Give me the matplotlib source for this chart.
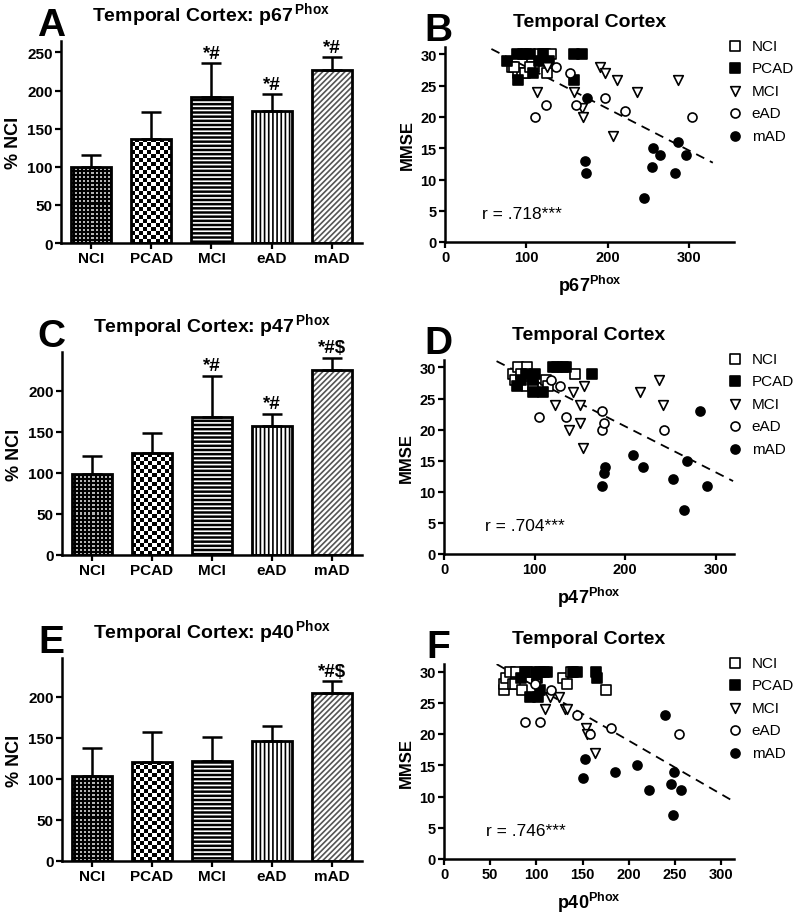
import numpy as np
import matplotlib
matplotlib.use("Agg")
import matplotlib.pyplot as plt

plt.rcParams['font.family'] = 'Liberation Sans'
plt.rcParams['mathtext.fontset'] = 'custom'
plt.rcParams['mathtext.rm'] = 'Liberation Sans'
plt.rcParams['mathtext.bf'] = 'Liberation Sans:bold'
plt.rcParams['hatch.linewidth'] = 1.2

groups = ['NCI', 'PCAD', 'MCI', 'eAD', 'mAD']

# bar panels: mean % NCI and upper error (SEM)
p67_mean = [100, 137, 192, 173, 227]
p67_err = [16, 35, 44, 22, 17]
p67_sig = ['', '', '*#', '*#', '*#']

p47_mean = [98, 124, 168, 157, 225]
p47_err = [22, 24, 50, 15, 15]
p47_sig = ['', '', '*#', '*#', '*#$']

p40_mean = [103, 121, 122, 146, 204]
p40_err = [35, 36, 29, 18, 15]
p40_sig = ['', '', '', '', '*#$']

# scatter panels: (protein level, MMSE) per group
p67_pts = {
    'NCI': ([82, 90, 94, 98, 100, 107, 109, 115, 123, 125, 130, 85, 104],
            [28, 27, 27, 27, 30, 29, 28, 30, 30, 27, 30, 28, 28]),
    'PCAD': ([76, 88, 90, 96, 104, 108, 115, 120, 128, 158, 168, 158],
             [29, 30, 26, 30, 30, 27, 29, 30, 29, 30, 30, 26]),
    'MCI': ([113, 125, 158, 168, 169, 191, 197, 211, 236, 206, 286],
            [24, 28, 24, 21.5, 20, 28, 27, 26, 24, 17, 26]),
    'eAD': ([110, 124, 136, 153, 161, 197, 221, 304],
            [20, 22, 28, 27, 22, 23, 21, 20]),
    'mAD': ([175, 172, 173, 244, 256, 264, 254, 282, 286, 296],
            [23, 13, 11, 7, 15, 14, 12, 11, 16, 14]),
}
p47_pts = {
    'NCI': ([76, 82, 92, 87, 92, 78, 98, 113, 115, 144, 85],
            [29, 30, 30, 28, 27, 28, 27, 28, 27, 29, 29]),
    'PCAD': ([80, 85, 90, 98, 100, 109, 120, 125, 131, 135, 163, 98],
             [27, 28, 29, 26, 29, 26, 30, 30, 30, 30, 29, 28]),
    'MCI': ([122, 138, 142, 150, 150, 153, 155, 216, 237, 242],
            [24, 20, 26, 24, 21, 17, 27, 26, 28, 24]),
    'eAD': ([105, 118, 128, 135, 174, 174, 177, 243],
            [22, 28, 27, 22, 23, 20, 21, 20]),
    'mAD': ([283, 209, 220, 178, 176, 174, 268, 253, 290, 265],
            [23, 16, 14, 14, 13, 11, 15, 12, 11, 7]),
}
p40_pts = {
    'NCI': ([65, 65, 67, 71, 78, 75, 77, 84, 90, 129, 133, 138, 175],
            [27, 28, 29, 30, 30, 28, 28, 27, 30, 29, 28, 30, 27]),
    'PCAD': ([83, 88, 93, 100, 104, 108, 111, 102, 104, 101, 140, 144, 165, 166],
             [29, 30, 26, 30, 30, 30, 30, 26, 27, 29, 30, 30, 30, 29]),
    'MCI': ([100, 109, 115, 124, 131, 133, 154, 155, 164],
            [28, 24, 26, 26, 24, 24, 21, 20, 17]),
    'eAD': ([88, 104, 99, 116, 144, 158, 181, 254],
            [22, 22, 28, 27, 23, 20, 21, 20]),
    'mAD': ([150, 153, 185, 209, 239, 249, 246, 257, 222, 248],
            [13, 16, 14, 15, 23, 14, 12, 11, 11, 7]),
}

# regression lines (slope, intercept, x start, x end) and r values
p67_fit = (-0.0669, 34.7, 57, 329)
p47_fit = (-0.0739, 35.3, 58, 319)
p40_fit = (-0.0856, 36.06, 57, 315)
p67_r = 'r = .718***'
p47_r = 'r = .704***'
p40_r = 'r = .746***'

markers = {'NCI': ('s', 'white'), 'PCAD': ('s', 'black'), 'MCI': ('v', 'white'),
           'eAD': ('o', 'white'), 'mAD': ('o', 'black')}

W, H = 800, 920
fig = plt.figure(figsize=(8, 9.2), dpi=100)


def box(l, r, top, bottom):
    return [l / W, 1 - bottom / H, (r - l) / W, (bottom - top) / H]


def style_axes(ax, size=10.5):
    for s in ['top', 'right']:
        ax.spines[s].set_visible(False)
    for s in ['left', 'bottom']:
        ax.spines[s].set_linewidth(1.8)
    ax.tick_params(direction='out', length=4, width=1.6, labelsize=size, pad=2)
    for lab in ax.get_xticklabels() + ax.get_yticklabels():
        lab.set_fontweight('bold')


def texture(ax, bar, kind, cell):
    # fill a bar with a pixel pattern (checkerboard or dots), clipped to the bar
    x0, y0 = bar.get_x(), bar.get_y()
    w, h = bar.get_width(), bar.get_height()
    a = ax.transData.transform((x0, y0))
    b = ax.transData.transform((x0 + w, y0 + h))
    nx = max(1, int(round((b[0] - a[0]) / cell)))
    ny = max(1, int(round((b[1] - a[1]) / cell)))
    ii, jj = np.meshgrid(np.arange(ny), np.arange(nx), indexing='ij')
    if kind == 'checker':
        img = ((ii + jj) % 2).astype(float)
    else:
        img = np.where((ii % 2 == 0) & (jj % 2 == 0), 0.7, 0.0)
    im = ax.imshow(img, cmap='gray', vmin=0, vmax=1, extent=(x0, x0 + w, y0, y0 + h),
                   aspect='auto', interpolation='nearest', zorder=2, origin='lower')
    im.set_clip_path(bar)


def bar_panel(pos, letter, prot, mean, err, sig, ytop, yticks):
    ax = fig.add_axes(pos)
    x = np.arange(len(groups))
    ax.set_xlim(-0.5, 4.5)
    ax.set_ylim(0, ytop)
    pats = [('black', None, 'black'), ('white', None, 'black'), ('black', '----', 'white'),
            ('white', '||||', 'black'), ('white', '//////', '#555555')]
    bars = []
    for i in range(len(groups)):
        fc, ht, hc = pats[i]
        b = ax.bar(x[i], mean[i], width=0.67, color=fc, edgecolor=hc, hatch=ht,
                   linewidth=0, zorder=1)[0]
        bars.append(b)
    texture(ax, bars[0], 'dots', 2)
    texture(ax, bars[1], 'checker', 4)
    ax.bar(x, mean, width=0.67, fill=False, edgecolor='black', linewidth=2, zorder=3)
    ax.errorbar(x, mean, yerr=[np.zeros(len(err)), err], fmt='none', ecolor='black',
                elinewidth=1.8, capsize=7, capthick=1.8, zorder=3)
    for i in range(len(groups)):
        if sig[i]:
            ax.annotate(sig[i], (x[i], mean[i] + err[i]), xytext=(0, 1),
                        textcoords='offset points', ha='center', va='bottom',
                        fontsize=13.5, fontweight='bold')
    ax.set_xlim(-0.5, 4.5)
    ax.set_ylim(0, ytop)
    ax.set_xticks(x)
    ax.set_xticklabels(groups)
    ax.set_yticks(yticks)
    ax.set_ylabel('% NCI', fontsize=13, fontweight='bold', labelpad=4)
    ax.set_title('Temporal Cortex: %s$^{\\,\\mathbf{Phox}}$' % prot, fontsize=14,
                 fontweight='bold', pad=14)
    hpx = pos[3] * H
    ax.text((51 - pos[0] * W) / (pos[2] * W), 1 + 6 / hpx, letter, transform=ax.transAxes,
            fontsize=28, fontweight='bold', ha='center', va='baseline')
    style_axes(ax, 11)
    return ax


def scatter_panel(pos, letter, prot, pts, fit, rtxt, xmax, xticks):
    ax = fig.add_axes(pos)
    for g in groups:
        m, fc = markers[g]
        xs, ys = pts[g]
        ax.scatter(xs, ys, marker=m, s=42 if m != 'v' else 48, facecolor=fc,
                   edgecolor='black', linewidth=1.2, label=g, zorder=3, clip_on=False)
    k, c, x0, x1 = fit
    fx = np.array([x0, x1])
    ax.plot(fx, k * fx + c, color='black', linestyle=(0, (5, 3.5)), linewidth=1.3, zorder=2)
    ax.text(45, 4.6, rtxt, fontsize=12.5, ha='left', va='center')
    ax.set_xlim(0, xmax)
    ax.set_ylim(0, 31.2)
    ax.set_xticks(xticks)
    ax.set_yticks(range(0, 31, 5))
    ax.set_ylabel('MMSE', fontsize=12, fontweight='bold', labelpad=4)
    ax.set_xlabel('%s$^{\\mathbf{Phox}}$' % prot, fontsize=13, fontweight='bold', labelpad=6)
    ax.set_title('Temporal Cortex', fontsize=14, fontweight='bold', pad=15)
    wpx, hpx = pos[2] * W, pos[3] * H
    ax.text((438 - pos[0] * W) / wpx, 1 + 7 / hpx, letter, transform=ax.transAxes,
            fontsize=28, fontweight='bold', ha='center', va='baseline')
    ax.legend(loc='upper left', bbox_to_anchor=(1 - 7 / wpx, 1 + 8 / hpx), frameon=False,
              fontsize=11, handlelength=1.0, handletextpad=0.62, labelspacing=0.55,
              borderpad=0, borderaxespad=0, scatterpoints=1)
    style_axes(ax)
    return ax


bar_panel(box(61, 362, 42, 244), 'A', 'p67', p67_mean, p67_err, p67_sig, 265,
          [0, 50, 100, 150, 200, 250])
bar_panel(box(62, 362, 353, 556), 'C', 'p47', p47_mean, p47_err, p47_sig, 247,
          [0, 50, 100, 150, 200])
bar_panel(box(62, 362, 659, 862), 'E', 'p40', p40_mean, p40_err, p40_sig, 247,
          [0, 50, 100, 150, 200])

scatter_panel(box(445, 734, 48, 243), 'B', 'p67', p67_pts, p67_fit, p67_r, 355,
              [0, 100, 200, 300])
scatter_panel(box(444, 734, 361, 555), 'D', 'p47', p47_pts, p47_fit, p47_r, 320,
              [0, 100, 200, 300])
scatter_panel(box(444, 734, 665, 860), 'F', 'p40', p40_pts, p40_fit, p40_r, 314,
              [0, 50, 100, 150, 200, 250, 300])

fig.savefig('out.png', dpi=100)
